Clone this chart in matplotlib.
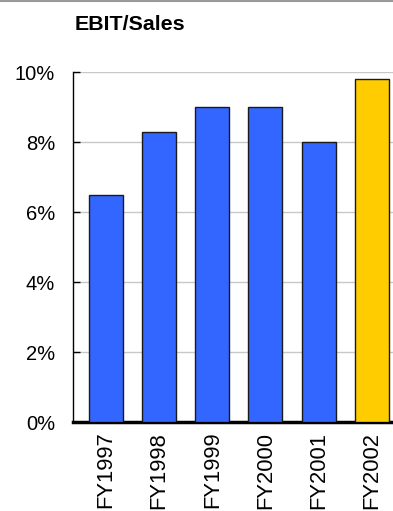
import matplotlib
matplotlib.use("Agg")
import matplotlib.pyplot as plt
from matplotlib.ticker import FuncFormatter

# datos
years = ['FY1997', 'FY1998', 'FY1999', 'FY2000', 'FY2001', 'FY2002']
ebit_sales = [6.5, 8.3, 9.0, 9.0, 8.0, 9.8]
colors = ['#3366FF', '#3366FF', '#3366FF', '#3366FF', '#3366FF', '#FFCC00']
y_ticks = [0, 2, 4, 6, 8, 10]

plt.rcParams['font.family'] = ['Liberation Sans', 'DejaVu Sans']

fig = plt.figure(figsize=(3.93, 5.11), dpi=100)
ax = fig.add_axes([73 / 393, 1 - 422 / 511, 1 - 73 / 393, (422 - 72) / 511])

x = range(len(years))
ax.bar(x, ebit_sales, width=0.64, color=colors, edgecolor='#1a1a1a', linewidth=1, zorder=3)

ax.set_ylim(0, 10)
ax.set_xlim(-0.62, 5.4)
ax.set_yticks(y_ticks)
ax.yaxis.set_major_formatter(FuncFormatter(lambda v, p: f'{v:.0f}%'))
ax.set_xticks(list(x))
ax.set_xticklabels(years, rotation=90, fontsize=15.8)
ax.tick_params(axis='y', direction='in', length=5, width=1, pad=13, labelsize=14.5)
ax.tick_params(axis='x', length=0, pad=7)
ax.grid(axis='y', color='#C8C8C8', linewidth=1, zorder=0)

ax.spines['top'].set_visible(False)
ax.spines['right'].set_visible(False)
ax.spines['left'].set_linewidth(1)
ax.spines['bottom'].set_linewidth(2.5)

# línea gris superior y título
fig.add_artist(plt.Line2D([0, 1], [1 - 1.5 / 511, 1 - 1.5 / 511], color='#999999', linewidth=1.5))
fig.text(75 / 393, 1 - 30 / 511, 'EBIT/Sales', fontsize=15.4, fontweight='bold', ha='left', va='baseline')

fig.savefig('out.png', dpi=100)
